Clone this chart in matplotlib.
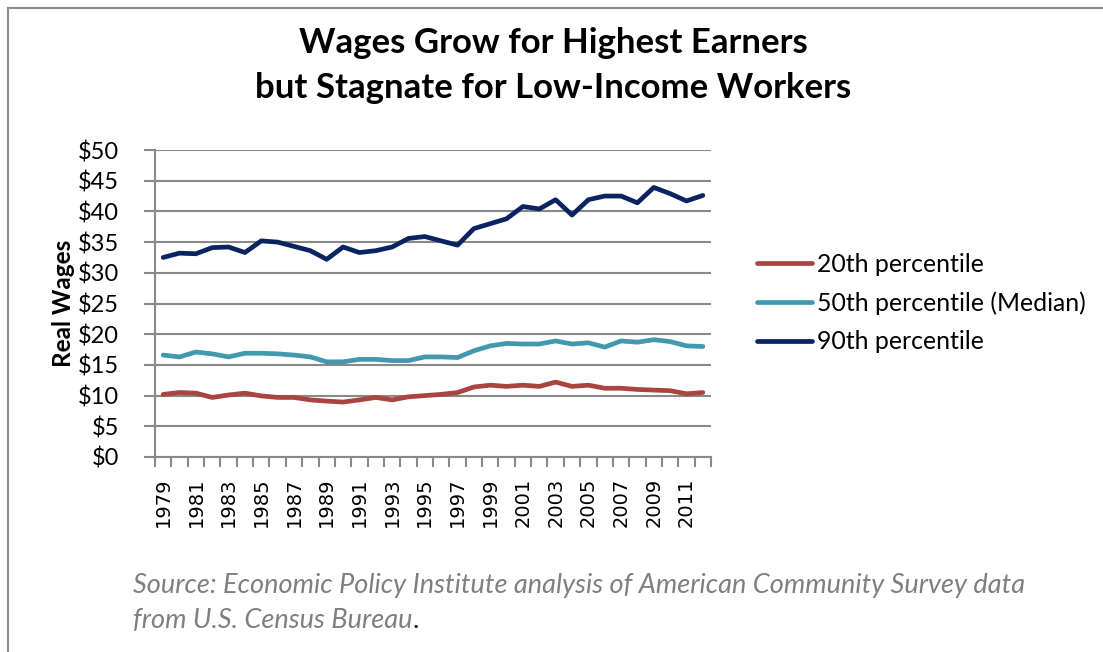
import matplotlib.pyplot as plt
from matplotlib.lines import Line2D

# %% データ
years = list(range(1979, 2013))
p20 = [10.2, 10.5, 10.4, 9.7, 10.1, 10.4, 9.95, 9.7, 9.7, 9.3, 9.1, 8.95, 9.3, 9.7, 9.3, 9.8, 10.0,
       10.2, 10.5, 11.4, 11.7, 11.5, 11.7, 11.5, 12.2, 11.5, 11.7, 11.2, 11.2, 11.0, 10.9, 10.8, 10.3, 10.5]
p50 = [16.6, 16.3, 17.1, 16.8, 16.3, 16.9, 16.9, 16.8, 16.6, 16.3, 15.5, 15.5, 15.9, 15.9, 15.7, 15.7, 16.3,
       16.3, 16.2, 17.3, 18.1, 18.5, 18.4, 18.4, 18.9, 18.4, 18.6, 17.9, 18.9, 18.7, 19.1, 18.8, 18.1, 18.0]
p90 = [32.5, 33.2, 33.1, 34.1, 34.2, 33.3, 35.2, 35.0, 34.3, 33.6, 32.2, 34.2, 33.3, 33.6, 34.2, 35.6, 35.9,
       35.2, 34.5, 37.2, 38.0, 38.8, 40.8, 40.4, 41.9, 39.4, 41.9, 42.5, 42.5, 41.4, 43.9, 42.9, 41.7, 42.6]
labels = ['20th percentile', '50th percentile (Median)', '90th percentile']
colors = ['#A9443F', '#4198AF', '#0A2361']
yticks = list(range(0, 51, 5))

# %% 描画
plt.rcParams['font.family'] = ['Lato', 'DejaVu Sans']
W, H = 1103, 652
fig = plt.figure(figsize=(W / 100, H / 100), dpi=100)
ax = fig.add_axes([155 / W, 1 - 457 / H, (711 - 155) / W, (457 - 150) / H])

x = list(range(len(years)))
for vals, lab, c in zip([p20, p50, p90], labels, colors):
    ax.plot(x, vals, color=c, lw=3.4, label=lab, solid_capstyle='round', solid_joinstyle='round', zorder=3)

grid_c = '#898989'
ax.set_ylim(0, 50)
ax.set_yticks(yticks)
ax.set_yticklabels([f'${v}' for v in yticks], fontsize=17)
ax.yaxis.grid(True, color=grid_c, lw=1.5, zorder=0)
ax.set_axisbelow(True)

ax.set_xlim(-0.5, len(years) - 0.5)
ax.set_xticks([i - 0.5 for i in range(len(years) + 1)])
ax.set_xticklabels([])
ax.set_xticks(x[::2], minor=True)
ax.set_xticklabels([str(y) for y in years[::2]], minor=True, rotation=90,
                   fontsize=14, family='DejaVu Sans')
ax.tick_params(axis='x', which='major', length=7, width=1.5, color=grid_c)
ax.tick_params(axis='x', which='minor', length=0, pad=15)
ax.tick_params(axis='y', length=8, width=1.5, color=grid_c, pad=18)

for s in ['top', 'right']:
    ax.spines[s].set_visible(False)
for s in ['left', 'bottom']:
    ax.spines[s].set_color(grid_c)
    ax.spines[s].set_linewidth(1.5)

ax.set_ylabel('Real Wages', fontsize=17.5, fontweight='bold', labelpad=2)

# タイトル
fig.text(553 / W, 1 - 53 / H, 'Wages Grow for Highest Earners', ha='center', va='baseline',
         fontsize=25, fontweight='bold')
fig.text(553 / W, 1 - 98 / H, 'but Stagnate for Low-Income Workers', ha='center', va='baseline',
         fontsize=25, fontweight='bold')

# 凡例
fig.legend(loc='upper left', bbox_to_anchor=(757 / W, 1 - 253 / H), frameon=False,
           fontsize=17.9, handlelength=2.2, handletextpad=0.2, labelspacing=0.62,
           borderpad=0, borderaxespad=0)

# 出典
src_c = '#7F7F7F'
fig.text(133 / W, 1 - 593 / H, 'Source: Economic Policy Institute analysis of American Community Survey data',
         fontsize=19.5, style='italic', color=src_c, va='baseline')
t2 = fig.text(133 / W, 1 - 628 / H, 'from U.S. Census Bureau', fontsize=19.5, style='italic',
              color=src_c, va='baseline')
fig.canvas.draw()
bb = t2.get_window_extent()
fig.text(bb.x1 / W, 1 - 628 / H, '.', fontsize=19.5, color='black', va='baseline')

# 外枠
fig.add_artist(Line2D([7.5 / W, 7.5 / W], [0, 1 - 8 / H], color='#8C8C8C', lw=1.5))
fig.add_artist(Line2D([7.5 / W, 1], [1 - 8 / H, 1 - 8 / H], color='#8C8C8C', lw=1.5))

fig.savefig('out.png', dpi=100)
